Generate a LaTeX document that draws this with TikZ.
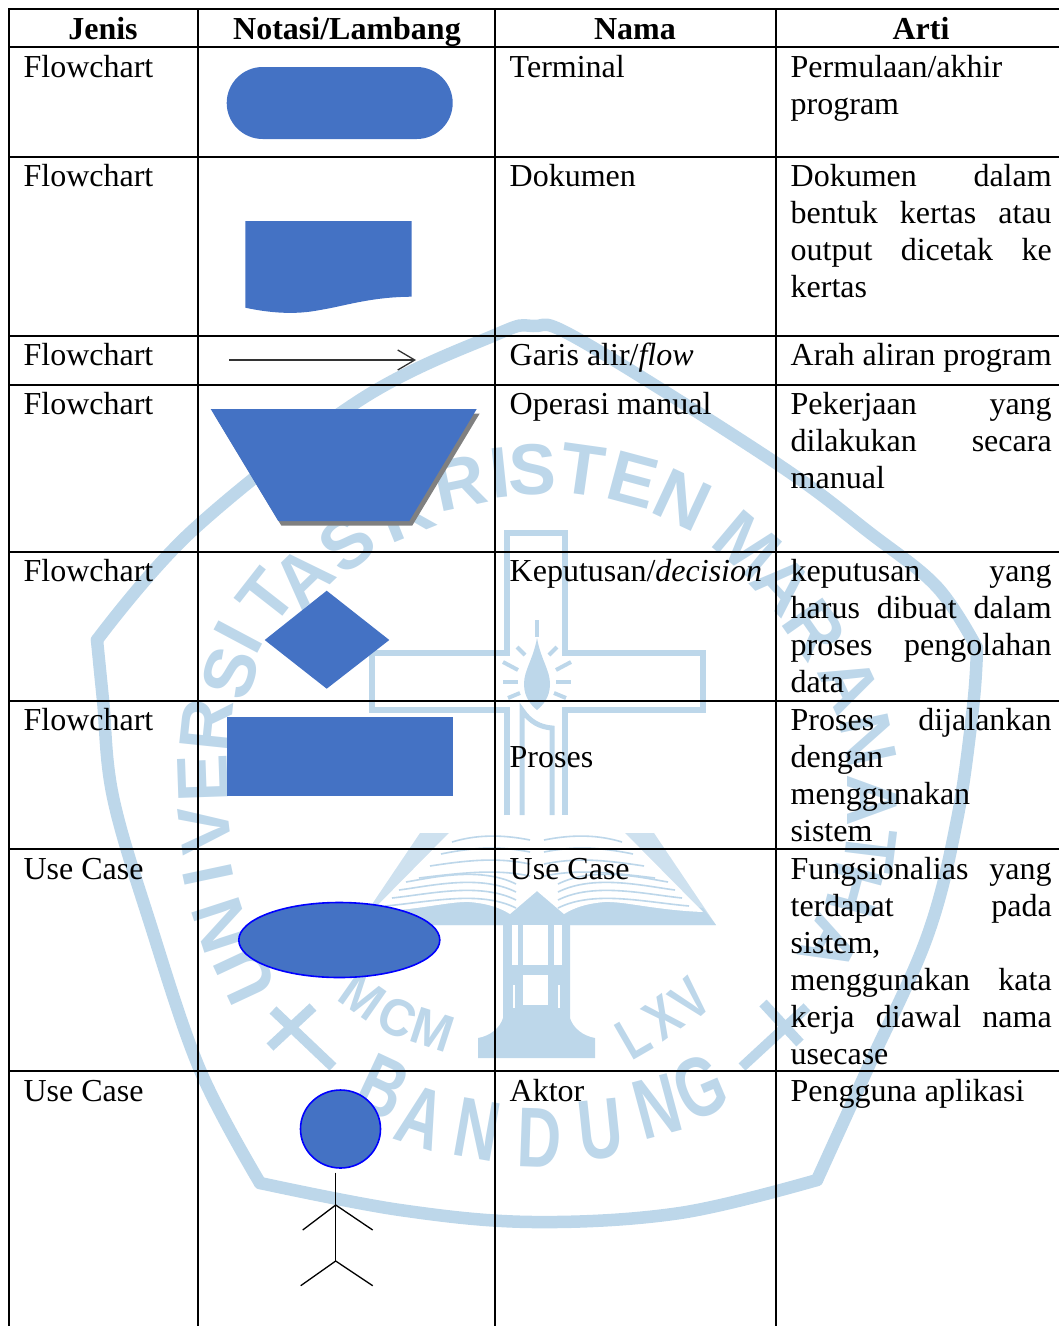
\documentclass[tikz,border=0pt]{standalone}
\usepackage{fontspec}
\usepackage{graphicx}
\setmainfont{Liberation Serif}
\newfontfamily\wmfont{Liberation Sans}
\usetikzlibrary{arrows.meta}
\definecolor{wmblue}{HTML}{BDD7EA}
\definecolor{shapeblue}{HTML}{4472C4}
\newcommand{\jl}[1]{\makebox[261pt][s]{#1}}
\newcommand{\fr}{\rule{0pt}{28pt}}
\newcommand{\pageart}{%
  \fill[wmblue!75] (537,925) -- (358,925) -- (420,833) -- (455,833) -- (537,893) -- cycle;
  \fill[wmblue] (537,925) -- (358,925) -- (371,908) -- (470,895) -- (510,905) -- (537,885) -- cycle;
  \fill[white] (537,822) .. controls (505,814) and (480,820) .. (453,829) -- (371,912)
     .. controls (420,910) and (450,901) .. (470,902) .. controls (490,904) and (500,908) .. (510,914) -- (537,891) -- cycle;
  \foreach \d in {0,1,2,3}{
    \draw[wmblue,line width=1.6pt] (452-\d*11,842+\d*12) .. controls (475,835+\d*12) and (500,834+\d*12) .. (530,840+\d*12);
    \draw[wmblue,line width=1.6pt] (385+\d*7,906-\d*8) .. controls (430,902-\d*8) and (480,890-\d*8) .. (516,908-\d*8);
  }
  \fill[white] (537,818) rectangle (532,891);
}
\tikzset{
  wmline/.style={draw=wmblue,line width=12.5pt,line join=round,line cap=round},
  wmthin/.style={draw=wmblue,line width=6pt,line join=miter},
  ray/.style={draw=wmblue,line width=4pt},
  wmletter/.style={text=wmblue,inner sep=0pt,anchor=center,font=\wmfont\bfseries\fontsize{72}{72}\selectfont},
  wmsmall/.style={text=wmblue,inner sep=0pt,anchor=center,font=\wmfont\bfseries\fontsize{58}{58}\selectfont},
  gridline/.style={draw=black,line width=2pt},
  symbolshape/.style={fill=shapeblue,draw=none},
  usecaseshape/.style={fill=shapeblue,draw=blue,line width=1.6pt},
  stick/.style={draw=black,line width=1.3pt},
  cell/.style={inner sep=0pt,outer sep=0pt,anchor=north west,align=left,font=\fontsize{32}{37}\selectfont},
  headcell/.style={inner sep=0pt,outer sep=0pt,anchor=base,font=\bfseries\fontsize{32}{37}\selectfont},
}
\begin{document}
\begin{tikzpicture}[x=1pt,y=-1pt]
\useasboundingbox (0,0) rectangle (1059,1326);
% ---------- watermark ----------
\draw[wmline] plot[smooth,tension=.6] coordinates {(97,640) (193,530) (360,400) (495,335) (533,326) (580,340) (776,463) (870,533) (937,587) (977,648)};
\draw[wmline] plot[smooth,tension=.6] coordinates {(977,648) (973,707) (957,820) (927,937) (867,1070) (817,1180)};
\draw[wmline] plot[smooth,tension=.6] coordinates {(817,1180) (680,1213) (533,1222) (400,1210) (260,1183)};
\draw[wmline] plot[smooth,tension=.6] coordinates {(260,1183) (200,1070) (150,923) (113,797) (103,700) (97,640)};
\foreach \t/\x/\y/\r [count=\i] in {
  U/245/975/115, N/222/925/108, I/208/875/102, V/205/830/97, E/203/778/92,
  R/207/725/84, S/230/673/72, I/238/637/62, T/267/597/52, A/303/577/44, S/347/543/38,
  K/405/512/22, R/460/483/12, I/500/473/6, S/533/470/0, T/583/470/-8, E/633/480/-15, N/683/500/-25,
  M/747/545/-40, A/783/585/-47, R/815/630/-55, A/850/685/-65, N/868/740/-78, A/872/800/-90,
  T/870/850/-97, H/855/890/-105, A/830/945/-118}
  {\node[wmletter,rotate=\r] (wa\i) at (\x,\y) {\t};}
\foreach \t/\x/\y/\r [count=\i] in {
  B/383/1087/-25, A/422/1118/-18, N/477/1130/-10, D/540/1138/-2, U/600/1130/6, N/657/1107/15, G/700/1087/23}
  {\node[wmletter,rotate=\r] (wb\i) at (\x,\y) {\scalebox{.85}[1.18]{\t}};}
\foreach \t/\x/\y/\r [count=\i] in {M/363/997/-35, C/397/1018/-25, M/433/1030/-18}
  {\node[wmsmall,rotate=\r] (wc\i) at (\x,\y) {\scalebox{.85}[.9]{\t}};}
\foreach \t/\x/\y/\r [count=\i] in {L/633/1037/30, X/663/1017/36, V/690/1000/42}
  {\node[wmsmall,rotate=\r] (wd\i) at (\x,\y) {\scalebox{.78}[1]{\t}};}
\draw[wmline,line width=10pt,line cap=butt] (273,1010) -- (333,1067);
\draw[wmline,line width=10pt,line cap=butt] (270,1047) -- (313,1007);
\draw[wmline,line width=10pt,line cap=butt] (742,1067) -- (807,1007);
\draw[wmline,line width=10pt,line cap=butt] (763,1003) -- (800,1043);
% cross
\draw[wmthin] (507,815) -- (507,710) -- (372,710) -- (372,653) -- (507,653) -- (507,533) -- (565,533) -- (565,653) -- (703,653) -- (703,710) -- (565,710) -- (565,815);
% candle
\draw[wmblue,line width=5pt] (522,815) -- (522,710) .. controls (530,722) and (540,727) .. (552,728) -- (552,815);
% flame
\fill[wmblue] (537,638) .. controls (533,660) and (524,670) .. (524,684) .. controls (524,698) and (532,706) .. (537,710) .. controls (542,706) and (550,698) .. (550,684) .. controls (550,670) and (541,660) .. (537,638) -- cycle;
\draw[ray] (537,620) -- (537,637);
\draw[ray] (517,647) -- (525,655);
\draw[ray] (557,647) -- (549,655);
\draw[ray] (503,662) -- (518,670);
\draw[ray] (571,662) -- (556,670);
\draw[ray] (503,682) -- (518,682);
\draw[ray] (556,682) -- (571,682);
\draw[ray] (508,698) -- (520,693);
\draw[ray] (566,698) -- (554,693);
% book
\pageart
\begin{scope}[xscale=-1,xshift=-1074pt]
\pageart
\end{scope}
% lamp column
\fill[wmblue] (503,925) -- (503,1018) .. controls (500,1028) and (490,1036) .. (478,1038) -- (478,1058) -- (595,1058) -- (595,1038)
   .. controls (583,1036) and (573,1028) .. (570,1018) -- (570,925) -- cycle;
\fill[white] (512,925) rectangle (518,965);
\fill[white] (523,925) rectangle (548,965);
\fill[white] (554,925) rectangle (562,965);
\fill[white] (523,975) rectangle (548,1005);
\fill[white] (513,985) rectangle (515,1008);
\fill[white] (558,985) rectangle (560,1008);
% ---------- shapes ----------
\fill[symbolshape,rounded corners=36pt] (226.7,67) rectangle (452.7,139);
\fill[symbolshape] (245.3,221) -- (411.7,221) -- (411.7,296.7) .. controls (370,297) and (345,306) .. (320,310) .. controls (295,315) and (270,313) .. (245.3,307.7) -- cycle;
\coordinate (arrowstart) at (229.3,360);
\coordinate (arrowend) at (416,360);
\draw[draw=black!80,line width=1.3pt,-{Straight Barb[length=17pt,width=20pt]}] (arrowstart) -- (arrowend);
\fill[black!50] (213.7,413.5) -- (479.7,413.5) -- (412.3,525.5) -- (281.3,525.5) -- cycle;
\fill[symbolshape] (210.7,409) -- (476.7,409) -- (409.3,521) -- (278.3,521) -- cycle;
\fill[symbolshape] (326.7,590.7) -- (389.3,640) -- (326.7,688.7) -- (264.7,640) -- cycle;
\fill[symbolshape] (226.7,716.7) rectangle (453.3,796);
\draw[usecaseshape] (339.3,940) ellipse [x radius=100.5,y radius=37.5];
\draw[usecaseshape] (340.5,1129) ellipse [x radius=40,y radius=39];
\coordinate (neck) at (335.7,1172.7);
\coordinate (shoulder) at (335.7,1205);
\coordinate (hip) at (335.7,1261);
\coordinate (handl) at (302.7,1230);
\coordinate (handr) at (372.7,1230);
\coordinate (footl) at (300.7,1285.7);
\coordinate (footr) at (372.7,1285.7);
\draw[stick] (neck) -- (hip);
\draw[stick] (handl) -- (shoulder) -- (handr);
\draw[stick] (footl) -- (hip) -- (footr);
% ---------- grid ----------
\draw[gridline] (9,1326) -- (9,9) -- (1059,9);
\draw[gridline] (198,9) -- (198,1326);
\draw[gridline] (495.3,9) -- (495.3,1326);
\draw[gridline] (776,9) -- (776,1326);
\foreach \y in {47,157,336,385,552,701,849,1071}
  \draw[gridline] (9,\y) -- (1059,\y);
% ---------- text ----------
\node[headcell] (h1) at (103,39) {Jenis};
\node[headcell] (h2) at (347,39) {Notasi/Lambang};
\node[headcell] (h3) at (635,39) {Nama};
\node[headcell] (h4) at (921,39) {Arti};
\foreach \t/\b/\n in {Flowchart/77/a,Flowchart/186/b,Flowchart/365/c,Flowchart/414/d,Flowchart/581/e,Flowchart/730/f,Use Case/879/g,Use Case/1101/h}
  {\node[cell] (j\n) at (23.6,\b-28) {\fr\t};}
\node[cell] (n1) at (509.7,49) {\fr Terminal};
\node[cell] (n2) at (509.7,158) {\fr Dokumen};
\node[cell] (n3) at (509.7,337) {\fr Garis alir/\textit{flow}};
\node[cell] (n4) at (509.7,386) {\fr Operasi manual};
\node[cell] (n5) at (509.7,553) {\fr Keputusan/\textit{decision}};
\node[cell] (n6) at (509.7,739) {\fr Proses};
\node[cell] (n7) at (509.7,851) {\fr Use Case};
\node[cell] (n8) at (509.7,1073) {\fr Aktor};
\node[cell] (a1) at (790.7,49) {\fr Permulaan/akhir\\program};
\node[cell] (a2) at (790.7,158) {\fr\jl{Dokumen dalam}\\\jl{bentuk kertas atau}\\\jl{output dicetak ke}\\kertas};
\node[cell] (a3) at (790.7,337) {\fr\jl{Arah aliran program}};
\node[cell] (a4) at (790.7,386) {\fr\jl{Pekerjaan yang}\\\jl{dilakukan secara}\\manual};
\node[cell] (a5) at (790.7,553) {\fr\jl{keputusan yang}\\\jl{harus dibuat dalam}\\\jl{proses pengolahan}\\data};
\node[cell] (a6) at (790.7,702) {\fr\jl{Proses dijalankan}\\dengan\\menggunakan\\sistem};
\node[cell] (a7) at (790.7,851) {\fr\jl{Fungsionalias yang}\\\jl{terdapat pada}\\sistem,\\\jl{menggunakan kata}\\\jl{kerja diawal nama}\\usecase};
\node[cell] (a8) at (790.7,1073) {\fr Pengguna aplikasi};
\end{tikzpicture}
\end{document}
